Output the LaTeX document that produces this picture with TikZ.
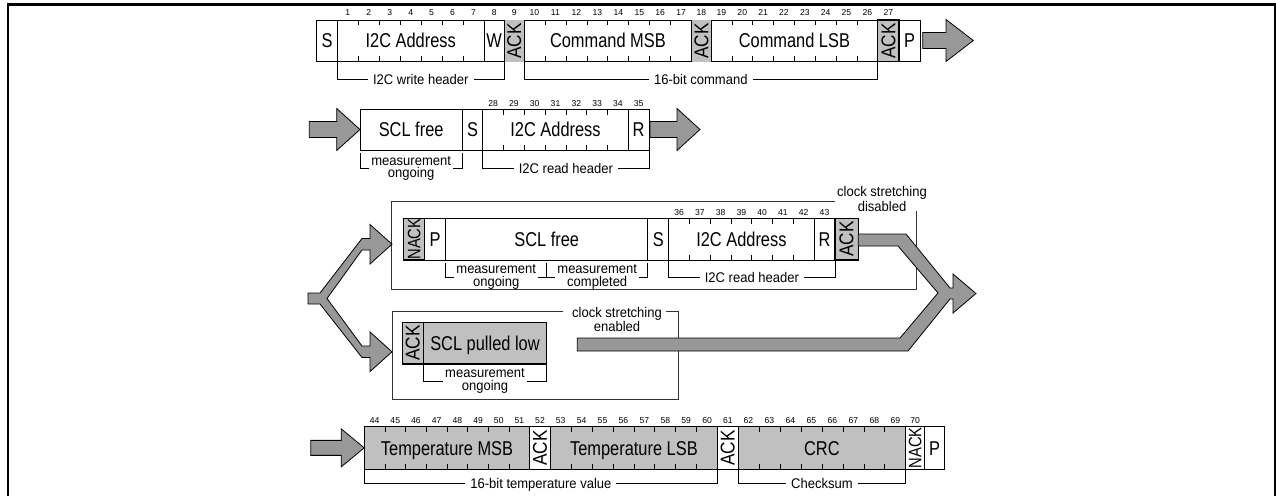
\documentclass[tikz,border=0pt]{standalone}
\usepackage{fontspec}
\setmainfont{Liberation Sans}
\usepackage{graphicx}
\definecolor{cellgray}{RGB}{192,192,192}
\definecolor{arrgray}{RGB}{152,152,152}
\newcommand\mlab[1]{\scalebox{0.82}[1]{#1}}
\newcommand\alab[1]{\scalebox{0.86}[1]{#1}}
\newcommand\slab[1]{\scalebox{0.93}[1]{#1}}
\newcommand\nlab[1]{#1}
\tikzset{
  cellline/.style={draw=black,line width=0.8pt},
  wcell/.style={cellline,fill=white},
  gcell/.style={cellline,fill=cellgray},
  gcellb/.style={draw=black,line width=1.4pt,fill=cellgray},
  gfill/.style={fill=cellgray},
  tickline/.style={draw=black,line width=0.7pt},
  lab/.style={font=\fontsize{20}{20}\selectfont,inner sep=0pt,anchor=base},
  acklab/.style={font=\fontsize{20}{20}\selectfont,inner sep=0pt,rotate=90},
  nacklab/.style={font=\fontsize{18}{18}\selectfont,inner sep=0pt,rotate=90},
  numlab/.style={font=\fontsize{8.6}{8.6}\selectfont,inner sep=0pt,anchor=base},
  brk/.style={draw=black,line width=0.7pt},
  blabel/.style={font=\fontsize{14}{12.5}\selectfont,fill=white,inner xsep=5pt,inner ysep=1pt,text height=10pt,text depth=0pt},
  mlabel/.style={font=\fontsize{14}{12.5}\selectfont,fill=white,inner xsep=2pt,inner ysep=0pt,align=center},
  clabel/.style={font=\fontsize{14}{12.5}\selectfont,fill=white,inner xsep=4pt,inner ysep=0pt,align=center},
  contline/.style={draw=black!80,line width=0.7pt},
  barrow/.style={fill=arrgray,draw=black,line width=0.8pt,line join=miter}
}
\newcommand\tks[5]{% x1, width, count of inner ticks, ytop, ybot
  \foreach \i in {1,...,#3}{
    \draw[tickline] ({#1+\i*#2},#4) -- ++(0,5.5);
    \draw[tickline] ({#1+\i*#2},#5) -- ++(0,-5.5);
  }}
\newcommand\nums[5]{% x1, width, count, first number, y
  \foreach \i in {1,...,#3}{
    \pgfmathtruncatemacro\nn{#4+\i-1}
    \node[numlab] (num\nn) at ({#1+(\i-0.5)*#2},{#5+3.1}) {\nlab{\nn}};
  }}
\newcommand\onenum[3]{\node[numlab] (num#1) at (#2,{#3+3.1}) {\nlab{#1}};}
\newcommand\barr[6]{% shaft start, head base, tip, yc, shaft half, head half
  \draw[barrow] (#1,{#4-#5}) -- (#2,{#4-#5}) -- (#2,{#4-#6}) -- (#3,#4) -- (#2,{#4+#6}) -- (#2,{#4+#5}) -- (#1,{#4+#5}) -- cycle;}
\newcommand\bkt[5]{% x1, x2, yfrom, yline, name
  \draw[brk] (#1,#3) -- (#1,#4) -- (#2,#4) -- (#2,#3);
  \coordinate (#5) at ({(#1+#2)/2},#4);}
\begin{document}
\begin{tikzpicture}[x=1pt,y=-1pt]
\useasboundingbox (0,0) rectangle (1276,495);
% frame
\draw[line width=2.8pt] (8,496) -- (8,4.7) -- (1276,4.7);
\draw[line width=1.4pt] (1275,4.7) -- (1275,496);

% ================= Row 1 =================
\fill[gfill] (504.3,20) rectangle (524,61.7);
\fill[gfill] (691.7,20) rectangle (711,61.7);
\draw[wcell] (316.7,20) rectangle (337.3,61.7);
\draw[wcell] (337.3,20) rectangle (484,61.7);
\draw[wcell] (484,20) rectangle (504.3,61.7);
\draw[wcell] (524,20) rectangle (691.7,61.7);
\draw[wcell] (711,20) rectangle (877.7,61.7);
\draw[wcell] (899,20) rectangle (920,61.7);
\draw[gcellb] (877.7,20) rectangle (899,61.7);
\tks{337.3}{20.957}{6}{20}{61.7}
\tks{524}{20.96}{7}{20}{61.7}
\tks{711}{20.84}{7}{20}{61.7}
\node[lab] (r1s) at (327,48) {\mlab{S}};
\node[lab] (r1addr) at (410.7,48) {\mlab{I2C Address}};
\node[lab] (r1w) at (494.2,48) {\mlab{W}};
\node[acklab] (r1ack1) at (514.2,40.9) {\alab{ACK}};
\node[lab] (r1msb) at (607.9,48) {\mlab{Command MSB}};
\node[acklab] (r1ack2) at (701.4,40.9) {\alab{ACK}};
\node[lab] (r1lsb) at (794.4,48) {\mlab{Command LSB}};
\node[acklab] (r1ack3) at (888.4,40.9) {\alab{ACK}};
\node[lab] (r1p) at (909.5,48) {\mlab{P}};
\nums{337.3}{20.957}{7}{1}{12}
\onenum{8}{494.2}{12}
\onenum{9}{514.2}{12}
\nums{524}{20.96}{8}{10}{12}
\onenum{18}{701.4}{12}
\nums{711}{20.84}{8}{19}{12}
\onenum{27}{888.4}{12}
\barr{922.7}{946}{973.3}{40.5}{8}{21}
\bkt{337.3}{504.3}{61.7}{79}{b1}
\node[blabel] (l1) at (b1) {\slab{I2C write header}};
\bkt{524}{877.7}{61.7}{79}{b2}
\node[blabel] (l2) at (b2) {\slab{16-bit command}};

% ================= Row 2 =================
\barr{309.3}{336.7}{360}{129.5}{8}{21}
\draw[wcell] (360,109) rectangle (462.3,150);
\draw[wcell] (462.3,109) rectangle (482.7,150);
\draw[wcell] (482.7,109) rectangle (628.3,150);
\draw[wcell] (628.3,109) rectangle (649,150);
\tks{482.7}{20.8}{6}{109}{150}
\node[lab] (r2scl) at (411.15,136.7) {\mlab{SCL free}};
\node[lab] (r2s) at (472.5,136.7) {\mlab{S}};
\node[lab] (r2addr) at (555.5,136.7) {\mlab{I2C Address}};
\node[lab] (r2r) at (638.65,136.7) {\mlab{R}};
\nums{482.7}{20.8}{7}{28}{103}
\onenum{35}{638.65}{103}
\barr{650}{677}{700}{129.5}{8}{21}
\bkt{360}{462.3}{153}{168.5}{b3}
\node[mlabel] (l3) at (b3) {\slab{measurement}\\\slab{ongoing}};
\bkt{482.7}{649}{150}{168.5}{b4}
\node[blabel] (l4) at (b4) {\slab{I2C read header}};

% ================= Row 3 (upper container) =================
\draw[contline] (835,201.7) -- (391.7,201.7) -- (391.7,289.3) -- (916.7,289.3) -- (916.7,210.7);
\node[clabel,fill=none] (l5) at (882,199) {\slab{clock stretching}\\\slab{disabled}};
\draw[wcell] (424.7,218.3) rectangle (445.7,260);
\draw[wcell] (445.7,218.3) rectangle (647.7,260);
\draw[wcell] (647.7,218.3) rectangle (668.8,260);
\draw[wcell] (668.8,218.3) rectangle (814,260);
\draw[wcell] (814,218.3) rectangle (835,260);
\draw[gcellb] (403.6,218.3) rectangle (424.7,260);
\draw[gcellb] (835,218.3) rectangle (858.2,260);
\tks{668.8}{20.743}{6}{218.3}{260}
\node[nacklab] (r3nack) at (414.15,239.15) {\mlab{NACK}};
\node[lab] (r3p) at (435.2,246.3) {\mlab{P}};
\node[lab] (r3scl) at (546.7,246.3) {\mlab{SCL free}};
\node[lab] (r3s) at (658.25,246.3) {\mlab{S}};
\node[lab] (r3addr) at (741.4,246.3) {\mlab{I2C Address}};
\node[lab] (r3r) at (824.5,246.3) {\mlab{R}};
\node[acklab] (r3ack) at (846.6,239.15) {\alab{ACK}};
\nums{668.8}{20.743}{7}{36}{212}
\onenum{43}{824.5}{212}
\bkt{445.7}{546.7}{263}{277}{b6}
\bkt{546.7}{647.7}{263}{277}{b7}
\node[mlabel] (l6) at (b6) {\slab{measurement}\\\slab{ongoing}};
\node[mlabel] (l7) at (b7) {\slab{measurement}\\\slab{completed}};
\bkt{668.8}{835}{260}{277}{b8}
\node[blabel] (l8) at (b8) {\slab{I2C read header}};

% ================= Row 3 (lower container) =================
\draw[contline] (563.3,311.7) -- (392.3,311.7) -- (392.3,399) -- (678.3,399) -- (678.3,311.7) -- (666,311.7);
\node[clabel,fill=none] (l9) at (617,319.2) {\slab{clock stretching}\\\slab{enabled}};
\draw[gcellb] (402.3,322.3) rectangle (423.3,364);
\draw[gcellb] (423.3,322.3) rectangle (546.7,364);
\node[acklab] (r3back) at (412.8,343.15) {\alab{ACK}};
\node[lab] (r3bscl) at (485,350.3) {\mlab{SCL pulled low}};
\bkt{423.3}{546.7}{364}{381}{b10}
\node[mlabel] (l10) at (b10) {\slab{measurement}\\\slab{ongoing}};

% fork arrow (left)
\draw[barrow] (308,293) -- (320,293) -- (362,238.5) -- (370,238.5) -- (370,224.5) -- (392,244.2)
  -- (370,264) -- (370,250) -- (362,250) -- (327,298.5) -- (362,346) -- (370,346) -- (370,332)
  -- (392,351.8) -- (370,371.6) -- (370,357.5) -- (362,357.5) -- (320,304) -- (308,304) -- cycle;
% merge arrow (right)
\draw[barrow] (858.2,234) -- (906,234) -- (950,288) -- (953,288) -- (953,274) -- (976,293.5)
  -- (953,313) -- (953,299) -- (950,299) -- (908,351) -- (577.3,351) -- (577.3,338) -- (900,338)
  -- (938,293) -- (898,246) -- (858.2,246) -- cycle;

% ================= Row 4 =================
\barr{310.8}{341.2}{364.2}{447.85}{7.5}{19}
\draw[gcell] (364.2,426.7) rectangle (529.8,469);
\draw[wcell] (529.8,426.7) rectangle (550.2,469);
\draw[gcell] (550.2,426.7) rectangle (717.6,469);
\draw[wcell] (717.6,426.7) rectangle (738,469);
\draw[gcell] (738,426.7) rectangle (905.8,469);
\draw[wcell] (905.8,426.7) rectangle (924.5,469);
\draw[wcell] (924.5,426.7) rectangle (944.8,469);
\tks{364.2}{20.7}{7}{426.7}{469}
\tks{550.2}{20.925}{7}{426.7}{469}
\tks{738}{20.975}{7}{426.7}{469}
\node[lab] (r4msb) at (447,455) {\mlab{Temperature MSB}};
\node[acklab] (r4ack1) at (540,447.85) {\alab{ACK}};
\node[lab] (r4lsb) at (633.9,455) {\mlab{Temperature LSB}};
\node[acklab] (r4ack2) at (727.8,447.85) {\alab{ACK}};
\node[lab] (r4crc) at (821.9,455) {\mlab{CRC}};
\node[nacklab] (r4nack) at (915.15,447.85) {\mlab{NACK}};
\node[lab] (r4p) at (934.65,455) {\mlab{P}};
\nums{364.2}{20.7}{8}{44}{420.5}
\onenum{52}{540}{420.5}
\nums{550.2}{20.925}{8}{53}{420.5}
\onenum{61}{727.8}{420.5}
\nums{738}{20.975}{8}{62}{420.5}
\onenum{70}{915.15}{420.5}
\bkt{364.2}{717.6}{469}{483.3}{b11}
\node[blabel] (l11) at (b11) {\slab{16-bit temperature value}};
\bkt{738}{905.8}{469}{483.3}{b12}
\node[blabel] (l12) at (b12) {\slab{Checksum}};
\end{tikzpicture}
\end{document}
